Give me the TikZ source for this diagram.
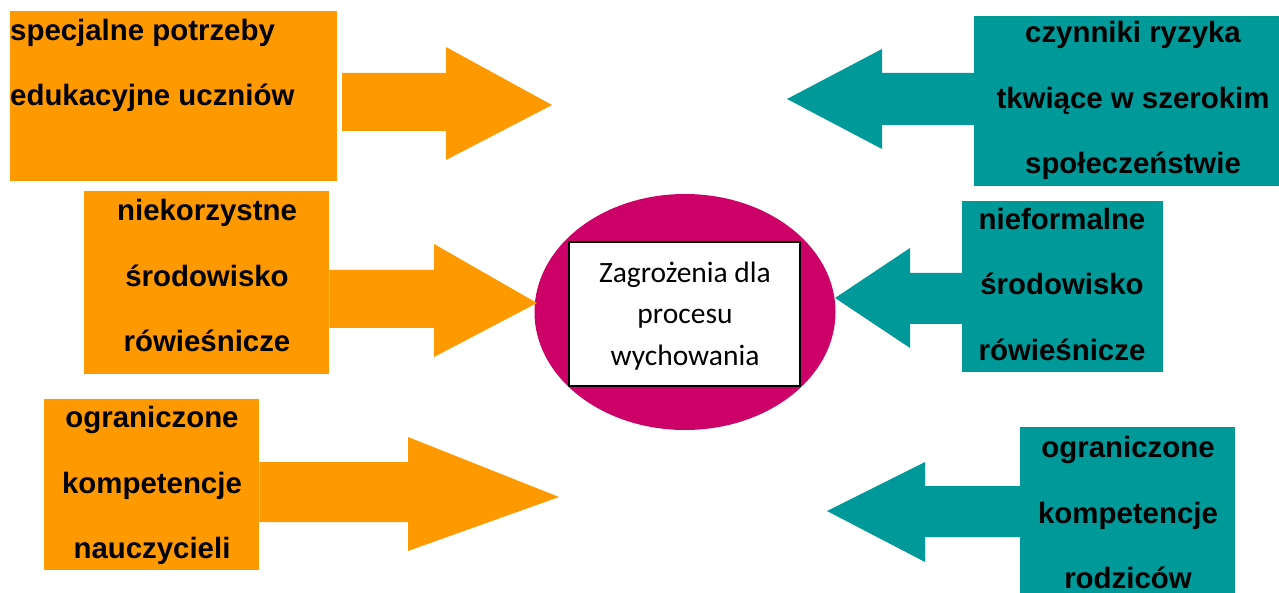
\documentclass[tikz,border=0pt]{standalone}
\usepackage{fontspec}
\usetikzlibrary{shapes.geometric}
\setmainfont{Liberation Sans}
\newfontfamily\calfont{Carlito}
\definecolor{orng}{HTML}{FF9900}
\definecolor{tealc}{HTML}{009999}
\definecolor{magn}{HTML}{CC0066}
\begin{document}
\begin{tikzpicture}[x=1pt,y=-1pt,
  obox/.style={fill=orng,draw=none,inner sep=0pt,anchor=north west},
  tbox/.style={fill=tealc,draw=none,inner sep=0pt,anchor=north west},
  lbl/.style={inner sep=0pt,align=center,font=\fontsize{29.4}{65.5}\selectfont\bfseries},
  oarrow/.style={fill=orng,draw=none},
  tarrow/.style={fill=tealc,draw=none}]
\useasboundingbox (0,0) rectangle (1279,593);
% centre
\node[ellipse,fill=magn,minimum width=301pt,minimum height=236pt,inner sep=0pt] (ell) at (685,312) {};
\node[draw=black,line width=1.6pt,fill=white,minimum width=231pt,minimum height=144pt,inner sep=0pt] (core) at (684.5,314) {};
\node[inner sep=0pt,align=center,font=\calfont\fontsize{29.5}{41.5}\selectfont] (coretxt) at (685,316) {Zagrożenia dla\\procesu\\wychowania};
% orange boxes
\node[obox,minimum width=327pt,minimum height=170pt] (b1) at (10,11) {};
\node[obox,minimum width=245pt,minimum height=183pt] (b2) at (84,191) {};
\node[obox,minimum width=215pt,minimum height=171pt] (b3) at (44,399) {};
% teal boxes
\node[tbox,minimum width=305pt,minimum height=170pt] (t1) at (974,16) {};
\node[tbox,minimum width=201pt,minimum height=171pt] (t2) at (962,201) {};
\node[tbox,minimum width=215pt,minimum height=166pt] (t3) at (1020,427) {};
% labels
\node[lbl,align=left,anchor=west] (l1) at (10,65.5) {specjalne potrzeby\\edukacyjne uczniów};
\node[lbl] (l2) at (207,275.5) {niekorzystne\\środowisko\\rówieśnicze};
\node[lbl] (l3) at (152,485.5) {ograniczone\\kompetencje\\nauczycieli};
\node[lbl] (l4) at (1133,100.5) {czynniki ryzyka\\tkwiące w szerokim\\społeczeństwie};
\node[lbl] (l5) at (1062,284) {nieformalne\\środowisko\\rówieśnicze};
\node[lbl] (l6) at (1128,512.5) {ograniczone\\kompetencje\\rodziców};
% orange arrows
\fill[oarrow] (342,73) -- (446,73) -- (446,47) -- (552,105) -- (446,160) -- (446,131) -- (342,131) -- cycle;
\fill[oarrow] (b2.east |- 0,270) -- (434,270) -- (434,244) -- (537,303) -- (434,357) -- (434,328) -- (b2.east |- 0,328) -- cycle;
\fill[oarrow] (b3.east |- 0,462) -- (408,462) -- (408,437) -- (559,497) -- (408,551) -- (408,522) -- (b3.east |- 0,522) -- cycle;
% teal arrows
\fill[tarrow] (t1.west |- 0,73) -- (882,73) -- (882,49) -- (787,99) -- (882,149) -- (882,125) -- (t1.west |- 0,125) -- cycle;
\fill[tarrow] (t2.west |- 0,273) -- (910,273) -- (910,248) -- (835,298) -- (910,348) -- (910,324) -- (t2.west |- 0,324) -- cycle;
\fill[tarrow] (t3.west |- 0,486) -- (925,486) -- (925,462) -- (827,511) -- (925,562) -- (925,537) -- (t3.west |- 0,537) -- cycle;
\end{tikzpicture}
\end{document}
